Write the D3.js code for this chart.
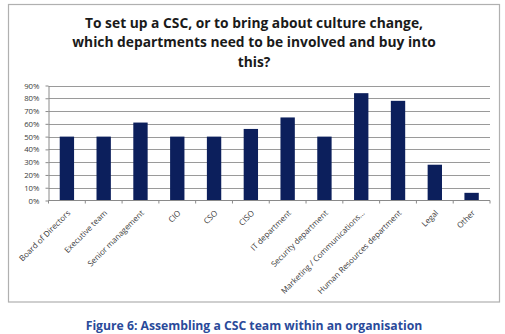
<!DOCTYPE html>
<html><head><meta charset="utf-8">
<script src="https://d3js.org/d3.v7.min.js"></script>
<style>body{margin:0;background:#fff}svg{display:block}</style>
</head><body>
<script>
const categories = ["Board of Directors","Executive team","Senior management","CIO","CSO","CISO","IT department","Security department","Marketing / Communications…","Human Resources department","Legal","Other"];
const values = [50,50,61,50,50,56,65,50,84,78,28,6];
const yTicks = [0,10,20,30,40,50,60,70,80,90];
const titleLines = ["To set up a CSC, or to bring about culture change,","which departments need to be involved and buy into","this?"];
const caption = "Figure 6: Assembling a CSC team within an organisation";

const W=505,H=334;
const svg=d3.select("body").append("svg").attr("width",W).attr("height",H);
svg.append("rect").attr("x",8.5).attr("y",4.5).attr("width",491).attr("height",297.5)
  .attr("fill","#fff").attr("stroke","#b0b0b0").attr("stroke-width",1.2);

const m={l:48.5,r:490,t:85.5,b:200.5};
const x=d3.scaleBand().domain(categories).range([m.l,m.r]).paddingInner(0.61).paddingOuter(0.305);
const y=d3.scaleLinear().domain([0,90]).range([m.b,m.t]);

const F="'Open Sans', sans-serif";
const tg=svg.append("g");
titleLines.forEach((t,i)=>{
  tg.append("text").attr("x",254).attr("y",27.5+i*19.5).attr("text-anchor","middle")
    .attr("font-family",F).attr("font-weight","bold").attr("font-size",13.8)
    .attr("fill","#1a1a1a").text(t);
});

// gridlines
svg.append("g").selectAll("line").data(yTicks.filter(d=>d>0)).join("line")
  .attr("x1",m.l).attr("x2",m.r).attr("y1",d=>Math.round(y(d))+0.5).attr("y2",d=>Math.round(y(d))+0.5)
  .attr("stroke","#9a9a9a").attr("stroke-width",1);

// y axis
const ya=svg.append("g").attr("transform",`translate(${m.l},0)`)
  .call(d3.axisLeft(y).tickValues(yTicks).tickFormat(d=>d+"%").tickSize(3).tickSizeOuter(0));
ya.select(".domain").attr("stroke","#8a8a8a");
ya.selectAll(".tick line").attr("stroke","#8a8a8a");
ya.selectAll("text").attr("font-family",F).attr("font-size",7.8).attr("fill","#3a3a3a").attr("x",-9);

// bars
svg.append("g").selectAll("rect").data(values).join("rect")
  .attr("x",(d,i)=>x(categories[i])).attr("width",x.bandwidth())
  .attr("y",d=>y(d)).attr("height",d=>y(0)-y(d)).attr("fill","#0c1f5c");

// x axis
const step=x.step();
const xa=svg.append("g").attr("transform",`translate(0,${m.b})`);
xa.append("line").attr("x1",m.l).attr("x2",m.r).attr("y1",0).attr("y2",0).attr("stroke","#8a8a8a");
xa.selectAll("line.t").data(d3.range(categories.length+1)).join("line").attr("class","t")
  .attr("x1",i=>m.l+i*step).attr("x2",i=>m.l+i*step).attr("y1",0).attr("y2",3).attr("stroke","#8a8a8a");
xa.selectAll("text").data(categories).join("text")
  .attr("transform",d=>`translate(${x(d)+x.bandwidth()/2+2},11) rotate(-45)`)
  .attr("text-anchor","end").attr("dy","0.35em")
  .attr("font-family",F).attr("font-size",8).attr("fill","#3a3a3a").text(d=>d);

svg.append("text").attr("x",254).attr("y",329.5).attr("text-anchor","middle")
  .attr("font-family",F).attr("font-weight","bold").attr("font-size",12.2)
  .attr("fill","#2a4a9a").text(caption);
</script>
</body></html>
